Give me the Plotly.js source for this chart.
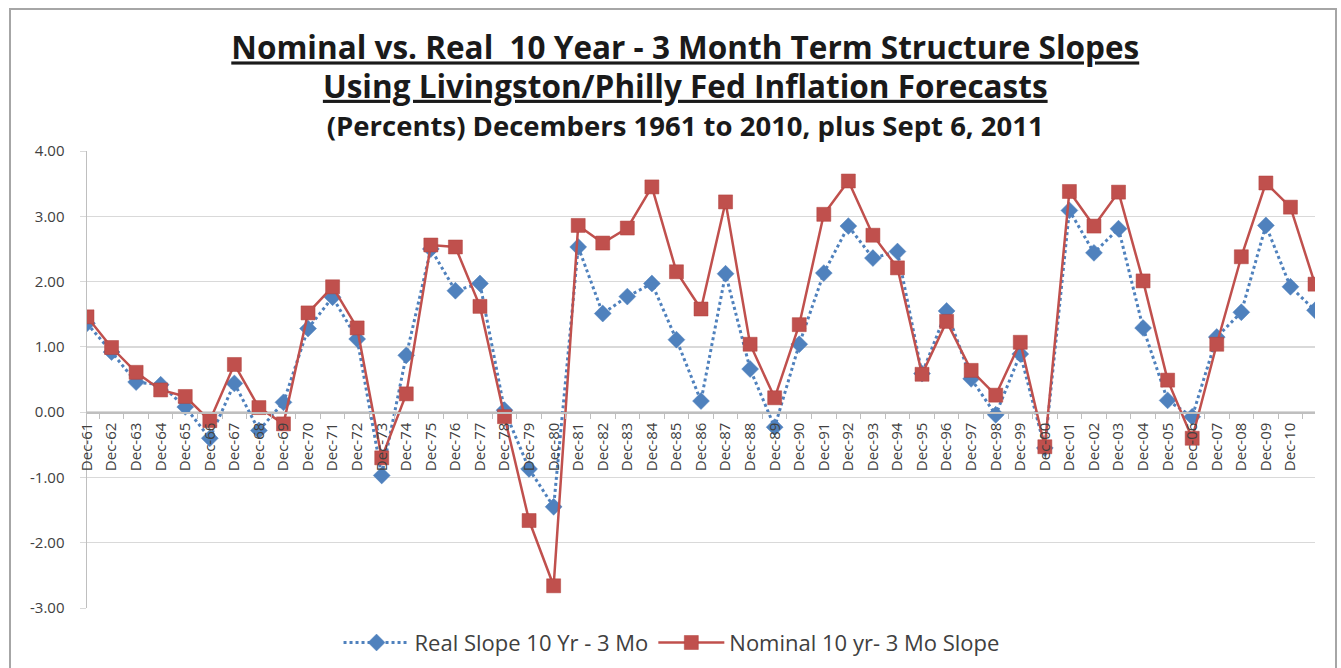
<!DOCTYPE html>
<html>
<head>
<meta charset="utf-8">
<script src="https://cdn.plot.ly/plotly-3.0.1.min.js"></script>
<style>
html,body{margin:0;padding:0;background:#fff;}
#chart{width:1341px;height:668px;}
</style>
</head>
<body>
<div id="chart"></div>
<script>
var categories = ["Dec-61","Dec-62","Dec-63","Dec-64","Dec-65","Dec-66","Dec-67","Dec-68","Dec-69",
  "Dec-70","Dec-71","Dec-72","Dec-73","Dec-74","Dec-75","Dec-76","Dec-77","Dec-78","Dec-79",
  "Dec-80","Dec-81","Dec-82","Dec-83","Dec-84","Dec-85","Dec-86","Dec-87","Dec-88","Dec-89",
  "Dec-90","Dec-91","Dec-92","Dec-93","Dec-94","Dec-95","Dec-96","Dec-97","Dec-98","Dec-99",
  "Dec-00","Dec-01","Dec-02","Dec-03","Dec-04","Dec-05","Dec-06","Dec-07","Dec-08","Dec-09","Dec-10",
  "Sep-11"];
var tickLabels = categories.slice(0, 50);

var realSlope = [1.36,0.92,0.46,0.42,0.08,-0.40,0.44,-0.28,0.15,
  1.28,1.76,1.12,-0.97,0.87,2.50,1.86,1.97,0.03,-0.87,
  -1.45,2.53,1.51,1.77,1.97,1.11,0.17,2.12,0.66,-0.23,
  1.04,2.13,2.85,2.36,2.46,0.59,1.55,0.51,-0.04,0.89,
  -0.55,3.09,2.44,2.81,1.29,0.18,-0.07,1.15,1.53,2.86,1.92,
  1.56];
var nominalSlope = [1.46,0.99,0.61,0.34,0.24,-0.13,0.73,0.07,-0.18,
  1.52,1.92,1.29,-0.70,0.28,2.56,2.53,1.62,-0.07,-1.66,
  -2.66,2.86,2.59,2.82,3.45,2.15,1.58,3.22,1.04,0.22,
  1.34,3.03,3.54,2.71,2.21,0.58,1.39,0.64,0.26,1.07,
  -0.53,3.38,2.85,3.37,2.01,0.49,-0.40,1.04,2.38,3.51,3.14,
  1.96];

var yTickVals = [-3,-2,-1,0,1,2,3,4];
var yTickText = ["-3.00","-2.00","-1.00","0.00","1.00","2.00","3.00","4.00"];

var TITLE_FONT = "'Open Sans', Lato, sans-serif";
var FONT = "'Open Sans', Lato, sans-serif";

var traces = [
  {
    x: categories, y: realSlope, type: 'scatter', mode: 'lines+markers',
    name: 'Real Slope 10 Yr - 3 Mo',
    line: {color: '#4F81BD', width: 3, dash: '3px,3px'},
    marker: {symbol: 'diamond', size: 13, color: '#4F81BD', line: {color: '#4F81BD', width: 0.5}}
  },
  {
    x: categories, y: nominalSlope, type: 'scatter', mode: 'lines+markers',
    name: 'Nominal 10 yr- 3 Mo Slope',
    line: {color: '#C0504D', width: 2.5},
    marker: {symbol: 'square', size: 14, color: '#C0504D', line: {color: '#B0403D', width: 0.5}}
  }
];

var layout = {
  width: 1341, height: 668,
  paper_bgcolor: '#ffffff', plot_bgcolor: '#ffffff',
  margin: {l: 87, r: 26, t: 151, b: 60, autoexpand: false},
  font: {family: FONT, color: '#404040'},
  title: {
    text: '<u><b><span style="font-size:31.5px">Nominal vs. Real  10 Year - 3 Month Term Structure Slopes</span></b></u><br>' +
          '<u><b><span style="font-size:31.5px">Using Livingston/Philly Fed Inflation Forecasts</span></b></u><br>' +
          '<b><span style="font-size:27.5px">(Percents) Decembers 1961 to 2010, plus Sept 6, 2011</span></b>',
    font: {family: TITLE_FONT, size: 29.5, color: '#1a1a1a'},
    x: 0.511, xref: 'container', xanchor: 'center',
    y: 0.911, yref: 'container', yanchor: 'top'
  },
  xaxis: {
    type: 'category',
    range: [0, 50],
    tickmode: 'array', tickvals: tickLabels, ticktext: tickLabels,
    tickangle: -90,
    tickfont: {family: FONT, size: 15, color: '#404040'},
    ticklabelstandoff: 3,
    showgrid: false,
    showline: true, linecolor: '#bfbfbf', linewidth: 1.5,
    ticks: 'outside', ticklen: 5, tickcolor: '#bfbfbf', tickson: 'boundaries',
    anchor: 'free', position: 3/7,
    zeroline: false, fixedrange: true
  },
  yaxis: {
    range: [-3, 4],
    tickmode: 'array', tickvals: yTickVals, ticktext: yTickText,
    tickfont: {family: FONT, size: 15, color: '#404040'},
    ticklabelstandoff: 12,
    showgrid: true, gridcolor: '#d9d9d9', gridwidth: 1.5,
    showline: true, linecolor: '#bfbfbf', linewidth: 1.5,
    ticks: 'outside', ticklen: 6, tickcolor: '#d9d9d9',
    zeroline: false, fixedrange: true
  },
  legend: {
    orientation: 'h', x: 0.476, xanchor: 'center', y: -0.030, yanchor: 'top',
    font: {family: FONT, size: 22, color: '#404040'},
    itemwidth: 66, traceorder: 'normal'
  },
  shapes: [{
    type: 'rect', xref: 'paper', yref: 'paper',
    x0: -0.0627, x1: 1.0171, y0: -0.25, y1: 1.3107,
    line: {color: '#a6a6a6', width: 2}, fillcolor: 'rgba(0,0,0,0)', layer: 'below'
  }],
  showlegend: true
};

Plotly.newPlot('chart', traces, layout, {displayModeBar: false, staticPlot: true});
</script>
</body>
</html>
